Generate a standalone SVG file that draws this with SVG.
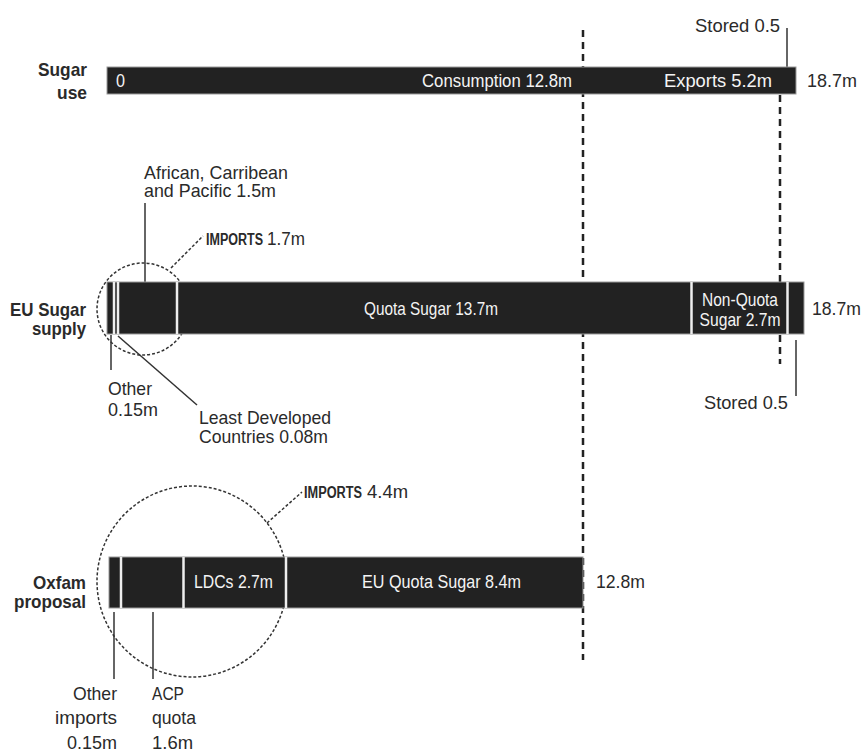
<svg xmlns="http://www.w3.org/2000/svg" width="864" height="751" viewBox="0 0 864 751">
<style>
text{font-family:"Liberation Sans",Arial,sans-serif;fill:#2a2a2a;font-size:19px}
.w{fill:#f4f4f4}
.b{font-weight:bold;font-size:19px}
.sc{font-weight:bold;font-size:16px}
.r{text-anchor:end}
.m{text-anchor:middle}
.bar{fill:#222;stroke:#9a9a9a;stroke-width:1}
.sep{stroke:#eee;stroke-width:2.5}
.dash{stroke:#222;stroke-width:2.5;stroke-dasharray:7 5;fill:none}
.dot{stroke:#333;stroke-width:1.5;stroke-dasharray:3 2;fill:none}
.ln{stroke:#333;stroke-width:1.5;fill:none}
</style>
<g id="connectors">
<line class="dash" x1="583" y1="30" x2="583" y2="660"/>
<line class="dash" x1="780" y1="95" x2="780" y2="364"/>
<line class="ln" x1="787" y1="28" x2="787" y2="67"/>
<line class="ln" x1="796" y1="340" x2="796" y2="396"/>
<line class="ln" x1="145" y1="203" x2="145" y2="282"/>
<line class="ln" x1="111" y1="335" x2="111" y2="370"/>
<line class="ln" x1="118" y1="336" x2="197" y2="405"/>
<line class="ln" x1="114" y1="612" x2="114" y2="679"/>
<line class="ln" x1="153" y1="612" x2="153" y2="679"/>
<ellipse class="dot" cx="143" cy="309" rx="46" ry="46"/>
<line class="dot" x1="171" y1="268" x2="203" y2="236"/>
<ellipse class="dot" cx="192" cy="581.5" rx="95" ry="95.5"/>
<line class="dot" x1="267" y1="523" x2="302" y2="492"/>
</g>
<g id="sugar-use">
<text class="b r" x="87" y="76" textLength="49" lengthAdjust="spacingAndGlyphs">Sugar</text>
<text class="b r" x="87" y="99" textLength="30" lengthAdjust="spacingAndGlyphs">use</text>
<rect class="bar" x="107" y="67" width="689" height="27"/>
<text class="w" x="116" y="87" textLength="9" lengthAdjust="spacingAndGlyphs">0</text>
<text class="w r" x="572" y="87" textLength="150" lengthAdjust="spacingAndGlyphs">Consumption 12.8m</text>
<text class="w r" x="772" y="87" textLength="108" lengthAdjust="spacingAndGlyphs">Exports 5.2m</text>
<text x="807" y="87" textLength="50" lengthAdjust="spacingAndGlyphs">18.7m</text>
<text class="r" x="780" y="32" textLength="85" lengthAdjust="spacingAndGlyphs">Stored 0.5</text>
</g>
<g id="eu-supply">
<text class="b r" x="86" y="316" textLength="76" lengthAdjust="spacingAndGlyphs">EU Sugar</text>
<text class="b r" x="86" y="335" textLength="54" lengthAdjust="spacingAndGlyphs">supply</text>
<rect class="bar" x="107" y="282" width="697" height="52"/>
<line class="sep" x1="114" y1="282" x2="114" y2="334"/>
<line class="sep" x1="118" y1="282" x2="118" y2="334"/>
<line class="sep" x1="177" y1="282" x2="177" y2="334"/>
<line class="sep" x1="691.5" y1="282" x2="691.5" y2="334"/>
<line class="sep" x1="787.5" y1="282" x2="787.5" y2="334"/>
<text class="w m" x="431" y="315" textLength="134" lengthAdjust="spacingAndGlyphs">Quota Sugar 13.7m</text>
<text class="w m" x="740" y="306" textLength="76" lengthAdjust="spacingAndGlyphs">Non-Quota</text>
<text class="w m" x="740" y="326" textLength="81" lengthAdjust="spacingAndGlyphs">Sugar 2.7m</text>
<text x="812" y="315" textLength="49" lengthAdjust="spacingAndGlyphs">18.7m</text>
<text class="r" x="788" y="409" textLength="84" lengthAdjust="spacingAndGlyphs">Stored 0.5</text>
<text x="144" y="179" textLength="144" lengthAdjust="spacingAndGlyphs">African, Carribean</text>
<text x="144" y="197" textLength="132" lengthAdjust="spacingAndGlyphs">and Pacific 1.5m</text>
<text x="206" y="245"><tspan class="sc" textLength="57" lengthAdjust="spacingAndGlyphs">IMPORTS</tspan><tspan dx="4" textLength="38" lengthAdjust="spacingAndGlyphs">1.7m</tspan></text>
<text x="108" y="395" textLength="44" lengthAdjust="spacingAndGlyphs">Other</text>
<text x="108" y="416" textLength="50" lengthAdjust="spacingAndGlyphs">0.15m</text>
<text x="199" y="424" textLength="132" lengthAdjust="spacingAndGlyphs">Least Developed</text>
<text x="199" y="443" textLength="129" lengthAdjust="spacingAndGlyphs">Countries 0.08m</text>
</g>
<g id="oxfam">
<text class="b r" x="86" y="589" textLength="53" lengthAdjust="spacingAndGlyphs">Oxfam</text>
<text class="b r" x="86" y="608" textLength="72" lengthAdjust="spacingAndGlyphs">proposal</text>
<rect class="bar" x="109" y="557" width="474" height="51"/>
<line class="sep" x1="121" y1="557" x2="121" y2="608"/>
<line class="sep" x1="183.5" y1="557" x2="183.5" y2="608"/>
<line class="sep" x1="286" y1="557" x2="286" y2="608"/>
<text class="w m" x="233.5" y="588" textLength="79" lengthAdjust="spacingAndGlyphs">LDCs 2.7m</text>
<text class="w m" x="441.5" y="588" textLength="159" lengthAdjust="spacingAndGlyphs">EU Quota Sugar  8.4m</text>
<text x="596" y="588" textLength="49" lengthAdjust="spacingAndGlyphs">12.8m</text>
<text x="304" y="498"><tspan class="sc" textLength="58" lengthAdjust="spacingAndGlyphs">IMPORTS</tspan><tspan dx="5" textLength="41" lengthAdjust="spacingAndGlyphs">4.4m</tspan></text>
<text class="r" x="117" y="700" textLength="44" lengthAdjust="spacingAndGlyphs">Other</text>
<text class="r" x="117" y="724" textLength="62" lengthAdjust="spacingAndGlyphs">imports</text>
<text class="r" x="117" y="749" textLength="50" lengthAdjust="spacingAndGlyphs">0.15m</text>
<text x="152" y="700" textLength="32" lengthAdjust="spacingAndGlyphs">ACP</text>
<text x="152" y="724" textLength="44" lengthAdjust="spacingAndGlyphs">quota</text>
<text x="152" y="749" textLength="41" lengthAdjust="spacingAndGlyphs">1.6m</text>
</g>
</svg>
